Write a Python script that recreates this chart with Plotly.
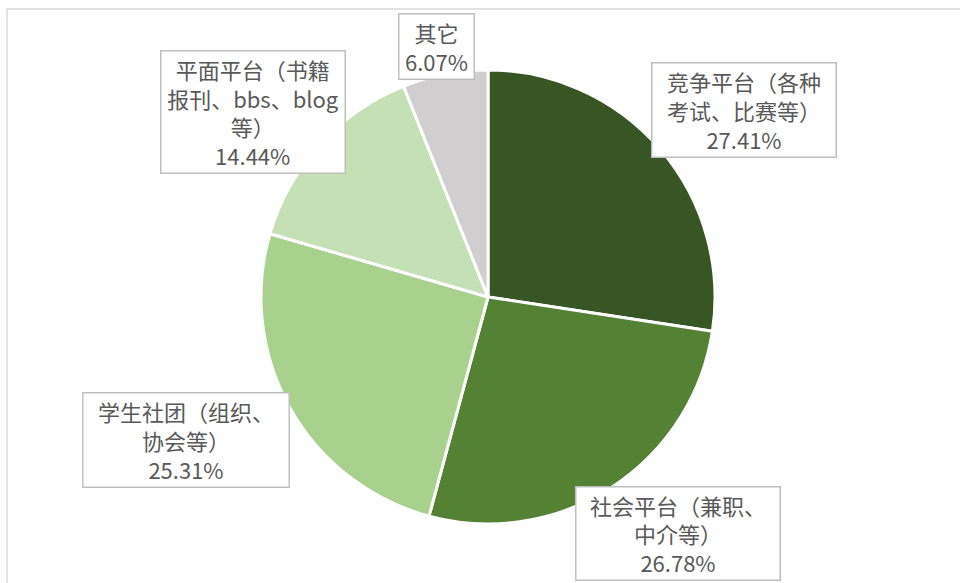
import plotly.graph_objects as go

# Data
categories = ["竞争平台（各种<br>考试、比赛等）", "社会平台（兼职、<br>中介等）", "学生社团（组织、<br>协会等）",
              "平面平台（书籍<br>报刊、bbs、blog<br>等）", "其它"]
values = [27.41, 26.78, 25.31, 14.44, 6.07]
colors = ["#375623", "#548235", "#A9D18E", "#C5E0B4", "#D0CECE"]

W, H = 960, 583
cx, cy, r = 488, 297, 227

fig = go.Figure(go.Pie(
    labels=categories,
    values=values,
    sort=False,
    direction="clockwise",
    rotation=0,
    textinfo="none",
    hoverinfo="label+percent",
    marker=dict(colors=colors, line=dict(color="white", width=3)),
    domain=dict(x=[(cx - r) / W, (cx + r) / W], y=[(H - cy - r) / H, (H - cy + r) / H]),
    showlegend=False,
))

# label box layout (centre x, centre y, width, height) in pixels
boxes = [(743.5, 109.5, 183, 93), (677.5, 533, 203, 92), (185.5, 439.5, 205, 93),
         (253.5, 112.5, 183, 121), (436, 46, 74, 64)]

annotations = []
for cat, v, (bx, by, bw, bh) in zip(categories, values, boxes):
    annotations.append(dict(
        x=bx / W, y=1 - by / H, xref="paper", yref="paper",
        xanchor="center", yanchor="middle",
        text=f"{cat}<br><span style='font-size:22px'>{v:.2f}%</span>",
        showarrow=False, align="center",
        width=bw, height=bh, borderpad=0,
        bordercolor="#BFBFBF", borderwidth=1.5, bgcolor="white",
        font=dict(family="Noto Sans CJK SC", size=22, color="#595959"),
    ))

shapes = [
    dict(type="line", xref="paper", yref="paper", x0=7 / W, x1=1.05, y0=1 - 9 / H, y1=1 - 9 / H,
         line=dict(color="#D9D9D9", width=1.5)),
    dict(type="line", xref="paper", yref="paper", x0=7 / W, x1=7 / W, y0=1 - 9 / H, y1=-0.05,
         line=dict(color="#D9D9D9", width=1.5)),
]

fig.update_layout(
    width=W, height=H,
    margin=dict(l=0, r=0, t=0, b=0),
    paper_bgcolor="white", plot_bgcolor="white",
    annotations=annotations, shapes=shapes,
)

fig.write_html("out.html", config={"displayModeBar": False},
               post_script="document.body.style.margin='0';document.body.style.overflow='hidden';")
